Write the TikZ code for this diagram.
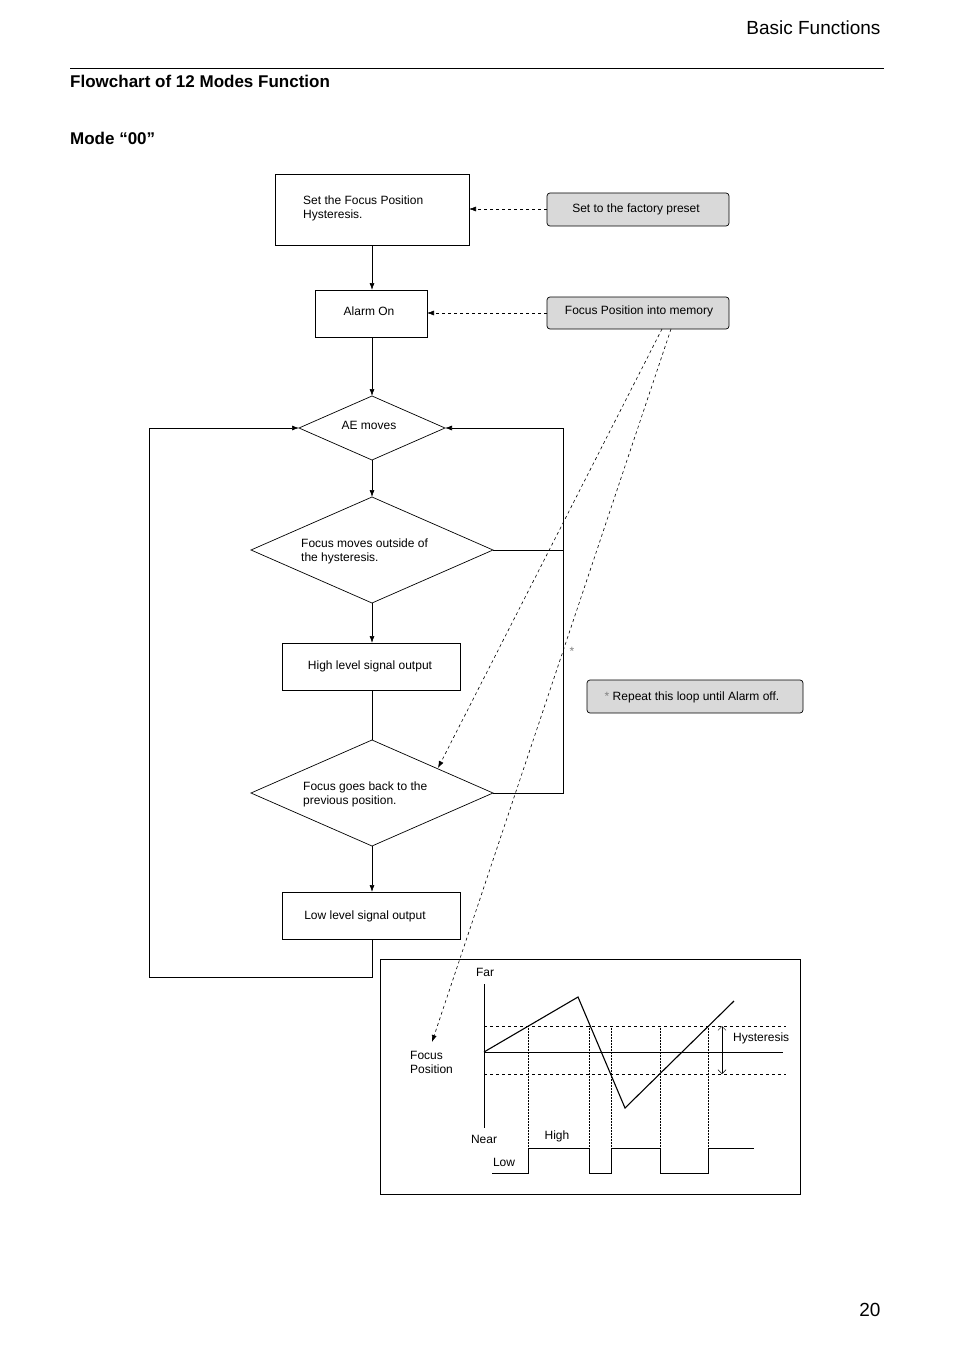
\documentclass[tikz,border=0pt]{standalone}
\usepackage{fontspec}
\setmainfont{Liberation Sans}
\usetikzlibrary{arrows.meta}
\begin{document}
\begin{tikzpicture}[x=1pt,y=-1pt,
 lbl/.style={font=\fontsize{12}{14}\selectfont,inner sep=0},
 box/.style={draw,line width=0.7pt},
 gbox/.style={draw,rounded corners=3pt,fill=gray!30,line width=0.7pt},
 arr/.style={-{Latex[length=7pt,width=5pt]},line width=0.7pt},
 darr/.style={-{Latex[length=7pt,width=5pt]},dashed,line width=0.6pt},
 ln/.style={line width=0.7pt}]
\useasboundingbox (0,0) rectangle (954,1351);
\node[anchor=east,font=\fontsize{19}{22}\selectfont] (hdr) at (884,28) {Basic Functions};
\draw[line width=0.6pt] (70,68) -- (884,68);
\node[anchor=west,font=\fontsize{17}{20}\selectfont\bfseries,inner sep=0] (ttl) at (70,81) {Flowchart of 12 Modes Function};
\node[anchor=west,font=\fontsize{17}{20}\selectfont\bfseries,inner sep=0] (mode) at (70,138) {Mode “00”};
\node[anchor=east,font=\fontsize{19}{22}\selectfont] (pg) at (884,1310) {20};
% boxes
\draw[box] (275,174) rectangle (469,245);
\coordinate (b1t) at (372,174); \coordinate (b1b) at (372,245); \coordinate (b1r) at (469,209);
\node[lbl,anchor=west,align=left] (t1) at (303,208.5) {Set the Focus Position\\Hysteresis.};
\draw[gbox] (547,193) rectangle (729,226);
\node[lbl] (fp) at (636,209) {Set to the factory preset};
\coordinate (fpl) at (547,209);
\draw[box] (315,290) rectangle (427,337);
\node[lbl] (al) at (369,311) {Alarm On};
\coordinate (alt) at (372,290); \coordinate (alb) at (372,337); \coordinate (alr) at (427,313);
\draw[gbox] (547,297) rectangle (729,329);
\node[lbl] (mem) at (639,311) {Focus Position into memory};
\coordinate (meml) at (547,313);
\coordinate (m1) at (662,329); \coordinate (m2) at (671,329);
% diamonds
\draw[ln] (372,396) -- (445,428) -- (372,460) -- (299,428) -- cycle;
\node[lbl] (ae) at (369,425) {AE moves};
\coordinate (aet) at (372,396); \coordinate (aeb) at (372,460);
\coordinate (ael) at (299,428); \coordinate (aer) at (445,428);
\draw[ln] (372,497) -- (493,550) -- (372,603) -- (251,550) -- cycle;
\node[lbl,anchor=west,align=left] (d2) at (301,551) {Focus moves outside of\\the hysteresis.};
\coordinate (d2t) at (372,497); \coordinate (d2b) at (372,603); \coordinate (d2r) at (493,550);
\draw[box] (282,643) rectangle (460,690);
\node[lbl] (hi) at (370,666) {High level signal output};
\coordinate (hit) at (372,643); \coordinate (hib) at (372,690);
\draw[ln] (372,740) -- (493,793) -- (372,846) -- (251,793) -- cycle;
\node[lbl,anchor=west,align=left] (d3) at (303,794) {Focus goes back to the\\previous position.};
\coordinate (d3t) at (372,740); \coordinate (d3b) at (372,846); \coordinate (d3r) at (493,793);
\coordinate (d3in) at (438,768);
\draw[box] (282,892) rectangle (460,939);
\node[lbl] (lo) at (365,916) {Low level signal output};
\coordinate (lot) at (372,892); \coordinate (lob) at (372,939);
% connectors
\draw[arr] (b1b) -- (alt);
\draw[arr] (alb) -- (aet);
\draw[arr] (aeb) -- (d2t);
\draw[arr] (d2b) -- (hit);
\draw[ln] (hib) -- (d3t);
\draw[arr] (d3b) -- (lot);
\draw[darr] (fpl) -- (b1r);
\draw[darr] (meml) -- (alr);
\draw[arr] (lob) -- (372,977) -- (149,977) -- (149,428) -- (ael);
\draw[ln] (d2r) -- (563,550);
\draw[arr] (d3r) -- (563,793) -- (563,428) -- (aer);
\draw[darr] (m1) -- (d3in);
\coordinate (fpin) at (432,1042);
\draw[darr] (m2) -- (fpin);
\node[lbl,text=gray] (ast) at (572,651) {*};
\draw[gbox] (587,680) rectangle (803,713);
\node[lbl] (rep) at (692,697) {{\color{gray}*} Repeat this loop until Alarm off.};
% graph
\draw[line width=0.6pt] (380,959) rectangle (800,1194);
\draw[ln] (484,984) -- (484,1128);
\node[lbl] (far) at (485,972) {Far};
\node[lbl] (near) at (484,1139) {Near};
\node[lbl,anchor=west,align=left] (fpos) at (410,1062) {Focus\\Position};
\draw[line width=0.6pt] (484,1052) -- (783,1052);
\draw[dashed,line width=0.6pt] (484,1026) -- (786,1026);
\draw[dashed,line width=0.6pt] (484,1074) -- (786,1074);
\foreach \x in {528,589,611,660,708} \draw[densely dotted,line width=0.5pt] (\x,1026) -- (\x,1148);
\draw[line width=1.1pt] (484,1052) -- (578,997) -- (625,1108) -- (734,1001);
\draw[line width=0.8pt] (492,1173) -- (528,1173) -- (528,1148) -- (589,1148) -- (589,1173) -- (611,1173) -- (611,1148) -- (660,1148) -- (660,1173) -- (708,1173) -- (708,1148) -- (754,1148);
\draw[{Straight Barb[length=4pt]}-{Straight Barb[length=4pt]},line width=0.5pt] (722,1026) -- (722,1074);
\node[lbl,anchor=west] (hys) at (733,1038) {Hysteresis};
\node[lbl] (high) at (557,1136) {High};
\node[lbl] (low) at (504,1162) {Low};
\end{tikzpicture}
\end{document}
